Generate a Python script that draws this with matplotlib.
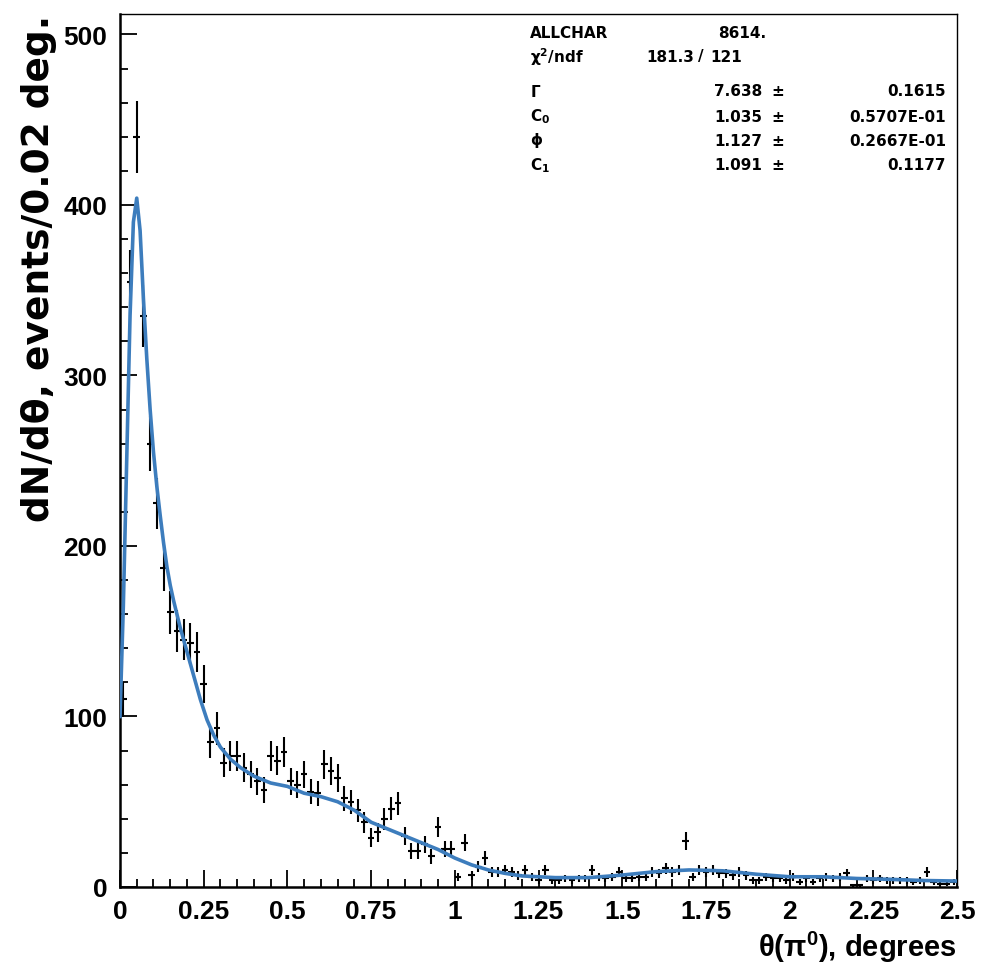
import numpy as np
import matplotlib.pyplot as plt
from matplotlib.ticker import MultipleLocator

plt.rcParams['font.family'] = ['Liberation Sans', 'DejaVu Sans']
plt.rcParams['font.weight'] = 'bold'
plt.rcParams['mathtext.default'] = 'regular'

# pi0 opening angle histogram, 0.02 deg bins from 0 to 2.5 deg
bin_width = 0.02
counts = [
    110, 355, 440, 335, 260, 225, 187, 161, 150, 145,
    143, 138, 119, 85, 93, 73, 77, 77, 70, 66,
    62, 57, 77, 74, 79, 62, 60, 66, 56, 55,
    72, 68, 64, 52, 50, 45, 38, 29, 32, 40,
    46, 49, 30, 21, 21, 25, 18, 35, 22, 22,
    6, 26, 7, 12, 17, 9, 9, 10, 9, 7,
    10, 6, 4, 10, 4, 4, 5, 4, 5, 5,
    10, 6, 5, 6, 9, 5, 5, 6, 6, 9,
    8, 11, 9, 10, 27, 6, 10, 9, 10, 8,
    8, 7, 9, 7, 4, 4, 6, 5, 5, 4,
    6, 3, 5, 3, 5, 6, 5, 6, 8, 1,
    1, 5, 4, 5, 4, 4, 4, 4, 3, 4,
    9, 3, 2, 2, 3,
]

# fitted curve
fit_x = [0.0, 0.01, 0.02, 0.03, 0.04, 0.05, 0.06, 0.07, 0.08, 0.09,
         0.10, 0.11, 0.12, 0.13, 0.14, 0.15, 0.16, 0.17, 0.18, 0.19,
         0.20, 0.22, 0.24, 0.26, 0.28, 0.30, 0.33, 0.36, 0.40, 0.45,
         0.50, 0.55, 0.60, 0.65, 0.70, 0.75, 0.80, 0.85, 0.90, 0.95,
         1.00, 1.05, 1.10, 1.15, 1.20, 1.30, 1.40, 1.50, 1.60, 1.70,
         1.80, 1.90, 2.00, 2.10, 2.20, 2.30, 2.40, 2.50]
fit_y = [100, 165, 250, 335, 390, 404, 385, 345, 310, 280,
         255, 235, 218, 202, 188, 177, 168, 160, 152, 145,
         138, 124, 110, 98, 89, 82, 75, 70, 65, 61,
         59, 55, 53, 50, 45, 38, 34, 30, 26, 22,
         17, 13, 10, 8, 6.5, 5.5, 5.5, 7, 9, 10,
         9.5, 7.5, 6, 6, 5, 4.5, 3.8, 3.5]

par_names = [r'$\Gamma$', r'C$_0$', r'$\phi$', r'C$_1$']
par_values = ['7.638', '1.035', '1.127', '1.091']
par_errors = ['0.1615', '0.5707E-01', '0.2667E-01', '0.1177']

W, H = 984, 978
fig = plt.figure(figsize=(W / 100, H / 100), dpi=100)
ax = fig.add_axes([120 / W, 1 - 888 / H, 837 / W, 873 / H])

centers = bin_width / 2 + bin_width * np.arange(len(counts))
vals = np.array(counts, dtype=float)
ax.errorbar(centers, vals, xerr=bin_width / 2, yerr=np.sqrt(vals),
            fmt='none', ecolor='black', elinewidth=1.5, capsize=0, zorder=2)
ax.plot(fit_x, fit_y, color='#3d7dbd', lw=2.6, zorder=3)

ax.set_xlim(0, 2.5)
ax.set_ylim(0, 512)
ax.xaxis.set_minor_locator(MultipleLocator(0.05))
ax.yaxis.set_major_locator(MultipleLocator(100))
ax.yaxis.set_minor_locator(MultipleLocator(20))
ax.set_xticks(np.arange(0, 2.51, 0.25))
ax.set_xticklabels(['0', '0.25', '0.5', '0.75', '1', '1.25', '1.5', '1.75',
                    '2', '2.25', '2.5'])
ax.tick_params(which='both', direction='in', top=False, right=False,
               labelsize=19, width=1.3)
ax.tick_params(which='major', length=12, pad=9)
ax.tick_params(which='minor', length=6)
for lab in ax.get_xticklabels() + ax.get_yticklabels():
    lab.set_fontweight('bold')

for side in ('left', 'bottom'):
    ax.spines[side].set_linewidth(1.8)
for side in ('top', 'right'):
    ax.spines[side].set_linewidth(1.0)

ax.set_ylabel('dN/d\u03b8, events/0.02 deg.', fontsize=27, fontweight='bold',
              family=['DejaVu Sans'], loc='top', labelpad=5)
ax.set_xlabel(r'$\theta(\pi^0)$, degrees', fontsize=21, fontweight='bold',
              loc='right', labelpad=4)

# fit statistics box
sfont = dict(fontsize=11, fontweight='bold', family=['DejaVu Sans'], va='center')


def fy(y):
    return 1 - y / H


fig.text(530 / W, fy(33), 'ALLCHAR', ha='left', **sfont)
fig.text(766 / W, fy(33), '8614.', ha='right', **sfont)
fig.text(530 / W, fy(57), r'$\chi^2$/ndf', ha='left', **sfont)
fig.text(694 / W, fy(57), '181.3', ha='right', **sfont)
fig.text(701 / W, fy(57), '/', ha='center', **sfont)
fig.text(710 / W, fy(57), '121', ha='left', **sfont)
for name, val, err, y in zip(par_names, par_values, par_errors,
                             [92, 117, 141, 166]):
    fig.text(530 / W, fy(y), name, ha='left', **sfont)
    fig.text(762 / W, fy(y), val, ha='right', **sfont)
    fig.text(778 / W, fy(y), '\u00b1', ha='center', **sfont)
    fig.text(946 / W, fy(y), err, ha='right', **sfont)

fig.savefig('out.png', dpi=100)
